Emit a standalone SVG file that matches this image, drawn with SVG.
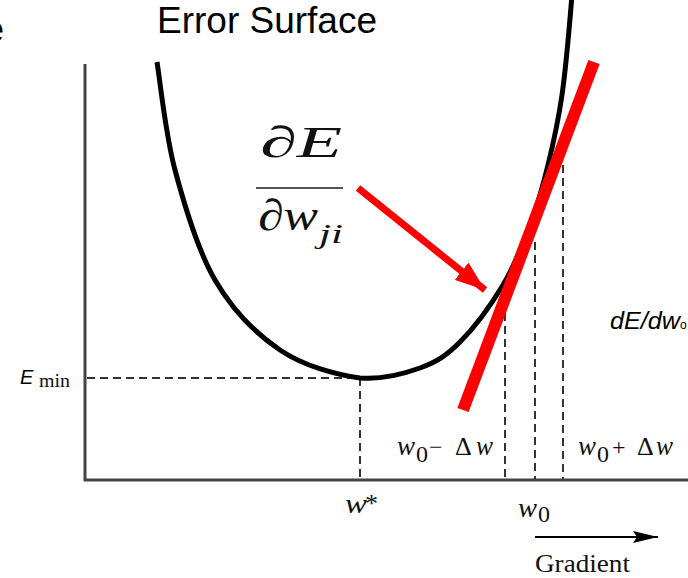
<svg xmlns="http://www.w3.org/2000/svg" width="688" height="578" viewBox="0 0 688 578">
<defs>
<style>
.axis{stroke:#444;stroke-width:3;fill:none}
.dash{stroke:#333;stroke-width:2;stroke-dasharray:8 5;fill:none}
.serif{font-family:"Liberation Serif","Times New Roman",serif;fill:#111}
.it{font-style:italic}
.sans{font-family:"Liberation Sans",Arial,sans-serif;fill:#000}
</style>
<marker id="redHead" viewBox="0 0 30 22" refX="30" refY="11" markerWidth="30" markerHeight="22" markerUnits="userSpaceOnUse" orient="auto">
<path d="M0,0 L30,11 L0,22 Z" fill="#ff0000"/>
</marker>
<marker id="blackHead" viewBox="0 0 25 12" refX="25" refY="6" markerWidth="25" markerHeight="12" markerUnits="userSpaceOnUse" orient="auto">
<path d="M0,0 L25,6 L0,12 L4,6 Z" fill="#000"/>
</marker>
</defs>
<rect width="688" height="578" fill="#fff"/>

<g id="title">
<text class="sans" x="157" y="33" font-size="37">Error Surface</text>
<text class="sans" x="-16" y="42" font-size="36">e</text>
</g>

<g id="axes">
<line class="axis" x1="85" y1="64" x2="85" y2="481"/>
<line class="axis" x1="84" y1="480" x2="688" y2="480"/>
</g>

<g id="guides">
<line class="dash" x1="87" y1="378" x2="360" y2="378"/>
<line class="dash" x1="360" y1="378" x2="360" y2="479"/>
<line class="dash" x1="505" y1="300" x2="505" y2="479"/>
<line class="dash" x1="535" y1="242" x2="535" y2="479"/>
<line class="dash" x1="563" y1="165" x2="563" y2="479"/>
</g>

<g id="curve">
<path d="M157,62 C160,80 165.3,133.7 175,170 C184.7,206.3 197.5,250 215,280 C232.5,310 255.8,333.7 280,350 C304.2,366.3 336.7,375 360,378 C383,380 403.3,374 420,368 C436.7,362 446.2,355.8 460,342 C473.8,328.2 491.3,304.5 503,285 C514.7,265.5 522.5,245 530,225 C537.5,205.3 542.7,186.7 548,165 C553.3,143.3 558,122.5 562,95 C566,67.5 570.3,15.8 572,-5" fill="none" stroke="#000" stroke-width="5"/>
</g>

<g id="tangent">
<line x1="463" y1="410" x2="594" y2="62" stroke="#ff0000" stroke-width="12"/>
</g>

<g id="connectors">
<line x1="358" y1="188" x2="485" y2="290" stroke="#ff0000" stroke-width="7" marker-end="url(#redHead)"/>
<line x1="535" y1="537" x2="658" y2="537" stroke="#000" stroke-width="2" marker-end="url(#blackHead)"/>
</g>

<g id="fraction">
<text class="serif it" x="260" y="157" font-size="44" textLength="82" lengthAdjust="spacingAndGlyphs">∂E</text>
<line x1="256" y1="188" x2="343" y2="188" stroke="#555" stroke-width="2"/>
<text class="serif it" x="258" y="230" font-size="44" textLength="60" lengthAdjust="spacingAndGlyphs">∂w</text>
<text class="serif it" x="319" y="243" font-size="28" textLength="24" lengthAdjust="spacingAndGlyphs">ji</text>
</g>

<g id="emin">
<text class="sans it" x="20" y="384" font-size="20">E</text>
<text class="serif" x="39" y="387" font-size="19" textLength="31" lengthAdjust="spacingAndGlyphs">min</text>
</g>

<g id="slope-label">
<text class="sans it" x="610" y="329" font-size="24" textLength="70" lengthAdjust="spacingAndGlyphs">dE/dw</text>
<text class="sans" x="680" y="329" font-size="12">o</text>
</g>

<g id="wminus">
<text class="serif it" x="397" y="455" font-size="27" textLength="18" lengthAdjust="spacingAndGlyphs">w</text>
<text class="serif" x="416" y="462" font-size="24">0</text>
<text class="serif" x="429" y="455" font-size="24">−</text>
<text class="serif" x="455" y="455" font-size="26">Δ</text>
<text class="serif it" x="476" y="455" font-size="27" textLength="17" lengthAdjust="spacingAndGlyphs">w</text>
</g>

<g id="wplus">
<text class="serif it" x="578" y="455" font-size="27" textLength="18" lengthAdjust="spacingAndGlyphs">w</text>
<text class="serif" x="597" y="462" font-size="24">0</text>
<text class="serif" x="612" y="455" font-size="24">+</text>
<text class="serif" x="637" y="455" font-size="26">Δ</text>
<text class="serif it" x="656" y="455" font-size="27" textLength="17" lengthAdjust="spacingAndGlyphs">w</text>
</g>

<g id="wstar">
<text class="serif it" x="345" y="513" font-size="27" textLength="22" lengthAdjust="spacingAndGlyphs">w</text>
<text class="serif" x="365" y="512" font-size="26">*</text>
</g>

<g id="w0">
<text class="serif it" x="518" y="517" font-size="27" textLength="19" lengthAdjust="spacingAndGlyphs">w</text>
<text class="serif" x="538" y="522" font-size="24">0</text>
</g>

<g id="gradient">
<text class="serif" x="535" y="572" font-size="26" textLength="95" lengthAdjust="spacingAndGlyphs">Gradient</text>
</g>
</svg>
